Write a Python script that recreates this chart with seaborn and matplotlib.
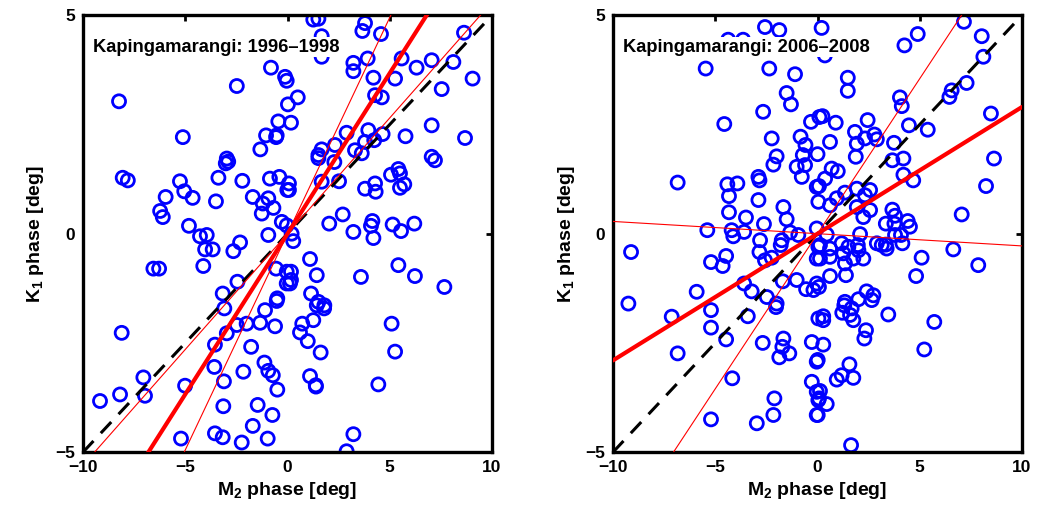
import numpy as np
import matplotlib
matplotlib.use("Agg")
import matplotlib.pyplot as plt
import seaborn as sns
import pandas as pd

# ---------------- data ----------------
m2_9698 = [-8.24, -2.48, -5.12, -0.81, -0.12, -0.04, 0.02, -0.45, 0.17, -1.05, -0.56, -0.53,
           -1.33, -2.97, -2.90, -8.06, -7.81, -3.02, -5.26, -3.38, -2.21, -0.86, -0.40, -0.01,
           -5.05, -4.64, -5.96, -3.50, -1.70, -0.94, -1.21, -0.69, -1.26, -6.23, -6.10, -0.28,
           -0.04, -4.82, -4.28, -3.95, -0.94, -2.32, -2.65, -4.03, -3.66, -6.56, -6.28, -4.12,
           -0.56, -0.04, -2.45, -3.17, -0.04, -0.50,
           -8.11, -3.09, -7.05, -6.97, -8.19, -9.17, -5.01, -2.48, -2.00, -1.34, -0.61, -2.97,
           -3.55, -1.78, -1.10, -0.53, -3.58, -2.16, -3.11, -1.13, -0.94, -0.72, -0.50, -3.14,
           -1.46, -0.74, -1.70, -5.21, -3.55, -3.17, -2.24, -0.97,
           1.43, 1.79, 1.26, 0.72, 0.61, 0.99, 1.62, 5.09, 5.26, 1.10, 1.38, 1.39, 4.44, 3.22, 2.89,
           1.51, 2.29, 7.05, 7.21, 0.07, 0.07, 1.67, 2.52, 3.79, 4.28, 4.31, 5.06, 5.42, 5.50,
           5.50, 5.71, 2.70, 2.04, 3.22, 4.15, 4.08, 4.20, 5.14, 5.55, 6.20, 0.20, 0.28, 1.10,
           0.17, 0.17, 0.12, 1.43, 3.59, 5.42, 6.23, 7.67, 1.15, 1.51, 1.80,
           1.26, 1.51, 3.79, 3.66, 4.57, 1.67, 1.67, 3.92, 3.22, 3.22, 4.20, 5.58, 5.26, 6.31,
           7.05, 8.11, 8.63, 9.05, 7.54, 4.28, 4.61, 0.50, 7.05, 8.68, 5.77, 4.65, 3.95, 4.24,
           2.89, 2.32, 1.67, 1.51, 3.30, 3.63, 3.79]
k1_9698 = [3.03, 3.38, 2.21, 3.80, 3.59, 3.50, 2.96, 2.57, 2.54, 2.25, 2.21, 2.25,
           1.93, 1.72, 1.65, 1.28, 1.22, 1.61, 1.20, 1.28, 1.21, 1.26, 1.30, 1.00,
           0.97, 0.82, 0.84, 0.74, 0.84, 0.81, 0.69, 0.59, 0.46, 0.52, 0.38, 0.27,
           0.19, 0.18, -0.06, -0.03, -0.03, -0.20, -0.40, -0.36, -0.36, -0.80, -0.80, -0.74,
           -0.80, -0.87, -1.10, -1.37, -1.14, -1.48,
           -2.27, -1.71, -3.29, -3.71, -3.68, -3.83, -3.48, -2.09, -2.06, -2.04, -2.12, -2.28,
           -2.54, -2.59, -1.75, -1.54, -3.05, -3.16, -3.38, -2.95, -3.14, -3.24, -3.57, -3.95,
           -3.92, -4.15, -4.40, -4.69, -4.57, -4.66, -4.78, -4.69,
           -1.64, -1.71, -1.98, -2.06, -2.26, -2.46, -2.72, -2.06, -2.70, -3.26, -3.47, -3.50,
           -3.45, -4.59, -4.98,
           1.73, 1.64, 1.76, 1.68, 1.15, 1.00, 1.19, 1.20, 1.03, 1.15, 0.96, 1.35, 1.48, 1.38,
           1.05, 1.13, 0.44, 0.23, 0.04, 0.29, 0.18, -0.10, 0.21, 0.06, 0.23, 0.00, -0.17, -0.58,
           -0.87, -1.06, -1.14, -0.95, -0.99, -0.72, -0.97, -1.22, -1.37, -1.56, -1.64,
           4.90, 4.92, 4.82, 4.64, 4.57, 4.52, 4.05, 4.01, 3.91, 3.72, 3.57, 4.01, 3.55, 3.80,
           3.97, 3.93, 4.60, 3.55, 3.31, 3.17, 3.12, 3.12, 2.48, 2.19, 2.23, 2.28, 2.37, 2.14,
           2.31, 2.03, 1.93, 1.80, 1.91, 1.84, 2.10]

m2_0608 = [-2.57, -1.87, 0.20, -4.37, -3.64, 0.36, -5.47, -2.36, -1.10, -1.51, -1.30, -2.66,
           -4.56, -0.32, 0.09, -2.24, -0.83, -0.59, -2.00, -0.72, 0.00,
           4.90, 4.25, 7.16, 8.03, 8.11, 1.48, 1.48, 4.03, 4.12, 6.56, 6.45, 7.29, 8.48, 0.24,
           0.89, 2.45, 4.47, 5.39, 1.83, 1.92, 2.32, 2.78, 2.90, 0.61, 3.74, 1.87, 3.66, 4.20, 8.63,
           -6.84, -4.41, -3.92, -4.33, -2.89, -2.84, -2.89, -2.16, -1.02, -0.77, -0.61, -1.67,
           -1.51, -0.04, 0.04, -4.33, -3.50, -2.62, -5.39, -4.20, -4.12, -3.59, -2.81, -2.84,
           -1.75, -1.80, -1.34, -0.94, -2.57, -2.24, -0.04, 0.04, -0.04, -9.12, -4.47, -5.21,
           -4.64, -5.91, -3.59, -3.22, -2.48, -1.70, -1.02, -0.56, -0.20, -0.04, -9.25, -2.00,
           4.20, 4.68, 8.24, 0.69, 0.99, 0.37, 0.07, 1.92, 2.57, 2.32, 1.34, 0.94, 0.61, 1.92,
           2.57, 2.24, 3.66, 3.79, 3.34, 3.76, 4.41, 4.52, 7.05, 0.45, 2.08, 3.79, 4.08, 4.15,
           2.90, 3.14, 3.38, 3.34, 6.64, 0.12, 0.61, 1.18, 1.51, 1.97, 2.00, 0.12, 0.61, 1.26,
           1.75, 2.24, 1.34, 5.09, 7.86, 4.82, 0.61, 1.39, 0.07, 2.40, 2.73, 2.00, 1.34,
           -7.13, -5.21, -5.21, -6.84, -4.47, -3.41, -2.03, -2.68, -1.67, -1.72, -1.38, -1.87,
           -0.28, -0.04, 0.04, -4.17, -0.28, -0.04, 0.04, -0.04, -2.11, -2.16, -2.97, -5.21,
           1.31, 1.67, 2.65, 1.21, 1.59, 1.75, 0.28, 0.28, 3.46, 5.71, 2.37, 2.29, 0.28, 5.22,
           0.01, 1.56, 1.18, 0.94, 1.75, 0.12, 0.07, 0.45, 0.01, 1.64]
k1_0608 = [4.73, 4.66, 4.71, 4.44, 4.44, 4.08, 3.78, 3.78, 3.65, 3.22, 2.96, 2.79,
           2.51, 2.56, 2.67, 2.18, 2.22, 2.03, 1.77, 1.80, 1.82,
           4.57, 4.31, 4.85, 4.52, 4.05, 3.57, 3.27, 3.12, 2.92, 3.28, 3.13, 3.45, 2.75, 2.69,
           2.54, 2.60, 2.48, 2.38, 2.33, 2.06, 2.18, 2.27, 2.16, 2.10, 2.08, 1.76, 1.68, 1.72, 1.72,
           1.17, 1.13, 1.15, 0.86, 1.30, 1.22, 0.77, 1.58, 1.53, 1.30, 1.57, 0.61,
           0.33, 1.07, 0.73, 0.49, 0.37, 0.22, 0.08, 0.08, -0.06, 0.04, -0.15, -0.42,
           -0.15, -0.26, 0.03, -0.03, -0.61, -0.55, 0.12, -0.30, -0.57, -0.42, -0.51, -0.65,
           -0.74, -1.33, -1.14, -1.32, -1.45, -1.09, -1.06, -1.27, -1.29, -1.14, -1.60, -1.60,
           1.35, 1.22, 1.09, 1.49, 1.43, 1.26, 1.09, 1.03, 1.00, 0.88, 0.94, 0.81, 0.65, 0.61,
           0.54, 0.38, 0.55, 0.41, 0.23, 0.23, 0.29, 0.16, 0.44, -0.02, -0.01, -0.03, -0.03, -0.22,
           -0.22, -0.26, -0.34, -0.25, -0.36, -0.26, -0.34, -0.22, -0.30, -0.26, -0.38, -0.57, -0.53, -0.45,
           -0.57, -0.57, -0.68, -0.55, -0.72, -0.97, -0.97, -0.95, -1.22, -1.32, -1.41, -1.50, -1.56,
           -1.90, -1.75, -2.15, -2.74, -2.42, -1.89, -1.68, -2.50, -2.40, -2.59, -2.74, -2.83,
           -2.48, -2.93, -1.94, -3.31, -3.39, -3.62, -3.81, -4.15, -3.77, -4.15, -4.34, -4.25,
           -1.64, -1.71, -1.52, -1.81, -1.86, -1.98, -1.89, -1.98, -1.85, -2.02, -2.21, -2.40, -2.54, -2.65,
           -2.89, -2.99, -3.24, -3.34, -3.30, -3.60, -3.77, -3.90, -4.15, -4.84]

# regression slopes: [fit, lower bound, upper bound]
slopes_9698 = [0.735, 0.53, 0.99]
slopes_0608 = [0.29, -0.028, 0.71]
ref_slope = 0.5
titles = ["Kapingamarangi: 1996\u20131998", "Kapingamarangi: 2006\u20132008"]
xticks = [-10, -5, 0, 5, 10]
yticks = [-5, 0, 5]

# ---------------- style ----------------
sns.set_style("white")
plt.rcParams['font.family'] = ['Liberation Sans', 'DejaVu Sans']
plt.rcParams['font.weight'] = 'bold'
plt.rcParams['text.color'] = 'black'
plt.rcParams['axes.labelcolor'] = 'black'
plt.rcParams['xtick.color'] = 'black'
plt.rcParams['ytick.color'] = 'black'
plt.rcParams['mathtext.fontset'] = 'custom'
plt.rcParams['mathtext.rm'] = 'Liberation Sans:bold'
plt.rcParams['mathtext.bf'] = 'Liberation Sans:bold'
plt.rcParams['mathtext.default'] = 'bf'

fig = plt.figure(figsize=(10.38, 5.08), dpi=100)
ax1 = fig.add_axes([0.080, 0.110, 0.394, 0.860])
ax2 = fig.add_axes([0.5906, 0.110, 0.394, 0.860])

datasets = [(ax1, m2_9698, k1_9698, slopes_9698, titles[0]),
            (ax2, m2_0608, k1_0608, slopes_0608, titles[1])]

xline = np.array([-10.0, 10.0])
for ax, xs, ys, sl, title in datasets:
    df = pd.DataFrame({"M2": xs, "K1": ys})
    sns.scatterplot(data=df, x="M2", y="K1", ax=ax, marker='o', s=88,
                    facecolors='none', edgecolor='#0000ff', linewidth=2.0, zorder=2)
    ax.plot(xline, ref_slope * xline, color='black', lw=2.2, ls=(0, (5, 3.5)), zorder=3)
    ax.plot(xline, sl[0] * xline, color='#ff0000', lw=3.0, zorder=4)
    ax.plot(xline, sl[1] * xline, color='#ff0000', lw=0.8, zorder=4)
    ax.plot(xline, sl[2] * xline, color='#ff0000', lw=0.8, zorder=4)
    ax.set_xlim(-10, 10)
    ax.set_ylim(-5, 5)
    ax.set_xticks(xticks)
    ax.set_yticks(yticks)
    ax.tick_params(direction='in', length=4, width=2, top=True, right=True,
                   labelsize=12.5, pad=6, colors='black')
    for lab in ax.get_xticklabels() + ax.get_yticklabels():
        lab.set_fontweight('bold')
    for sp in ax.spines.values():
        sp.set_linewidth(2.4)
        sp.set_color('black')
    ax.set_xlabel("M$_2$ phase [deg]", fontsize=14, fontweight='bold', labelpad=3, color='black')
    ax.set_ylabel("K$_1$ phase [deg]", fontsize=14, fontweight='bold', labelpad=6, color='black')
    ax.text(0.024, 0.927, title, transform=ax.transAxes, fontsize=13.2,
            fontweight='bold', va='center', ha='left', zorder=5, color='black',
            bbox=dict(facecolor='white', edgecolor='none', pad=1.0))

fig.savefig("out.png", dpi=100)
